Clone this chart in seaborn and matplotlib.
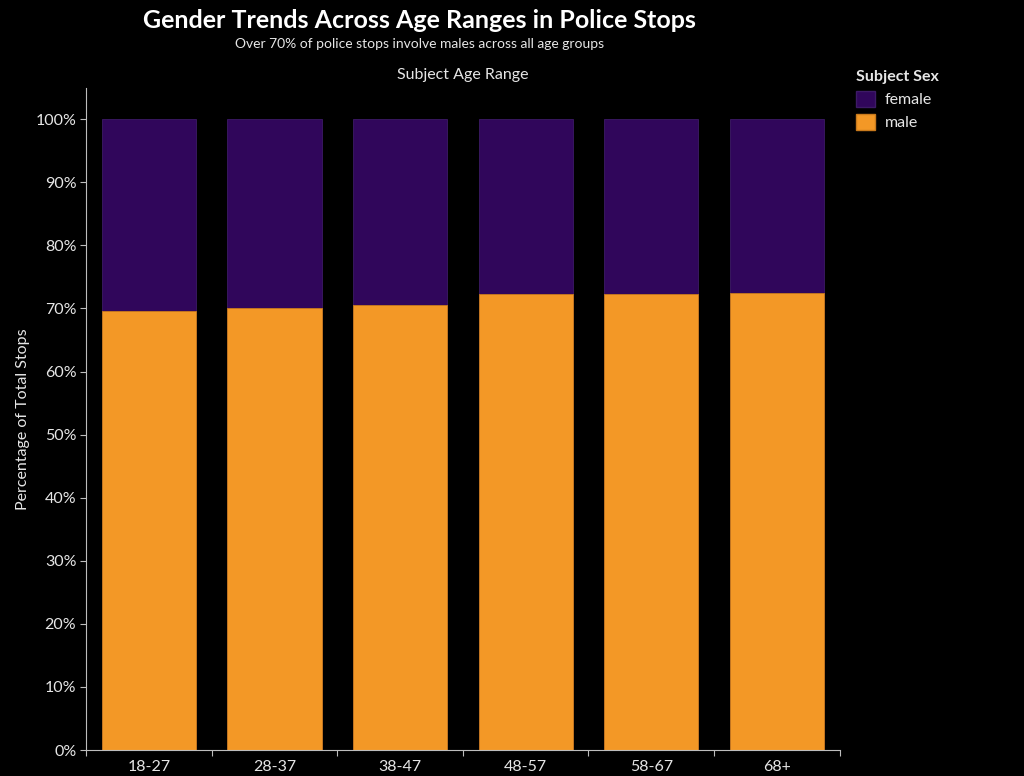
import matplotlib
matplotlib.use("Agg")
import matplotlib.pyplot as plt
import matplotlib.ticker as mticker
import pandas as pd
import seaborn as sns
from matplotlib.patches import Patch

age_ranges = ["18-27", "28-37", "38-47", "48-57", "58-67", "68+"]
male_pct = [69.6, 70.1, 70.5, 72.3, 72.3, 72.5]
female_pct = [100 - m for m in male_pct]

female_color = "#30065B"
male_color = "#F39826"
text_color = "#E6E6E6"
axis_color = "#BDBDBD"

sns.set_style("dark")
plt.rcParams["font.family"] = ["Lato", "DejaVu Sans"]

df = pd.DataFrame({"age": age_ranges, "male": male_pct, "female": female_pct})
df["total"] = df["male"] + df["female"]

fig = plt.figure(figsize=(10.24, 7.76), dpi=100, facecolor="black")
ax = fig.add_axes([0.084, 0.0335, 0.736, 0.8535])
ax.set_facecolor("black")

# stacked bars: draw full height (female on top) then male over it
sns.barplot(data=df, x="age", y="total", color=female_color, width=0.75,
            edgecolor="#3d1a66", linewidth=0.6, saturation=1, ax=ax)
sns.barplot(data=df, x="age", y="male", color=male_color, width=0.75,
            edgecolor="#c97a1c", linewidth=0.6, saturation=1, ax=ax)

ax.set_ylim(0, 105)
ax.set_xlim(-0.5, 5.5)
ax.set_yticks(range(0, 101, 10))
ax.set_yticklabels([f"{v}%" for v in range(0, 101, 10)])
ax.tick_params(axis="y", colors=axis_color, labelcolor=text_color, labelsize=11.5,
               length=4, width=0.8, left=True, pad=3)
ax.set_xticks(range(len(age_ranges)))
ax.set_xticklabels(age_ranges)
ax.xaxis.set_minor_locator(mticker.FixedLocator([i - 0.5 for i in range(len(age_ranges) + 1)]))
ax.tick_params(axis="x", which="major", length=0, labelcolor=text_color, labelsize=11.5, pad=7)
ax.tick_params(axis="x", which="minor", length=4, width=0.8, color=axis_color, bottom=True)
ax.grid(False)

for side in ["top", "right"]:
    ax.spines[side].set_visible(False)
for side in ["left", "bottom"]:
    ax.spines[side].set_visible(True)
    ax.spines[side].set_color(axis_color)
    ax.spines[side].set_linewidth(0.8)

ax.set_xlabel("")
ax.set_ylabel("Percentage of Total Stops", color=text_color, fontsize=11.5)
ax.yaxis.set_label_coords(-0.074, 0.5)

fig.text(0.410, 0.973, "Gender Trends Across Age Ranges in Police Stops",
         ha="center", va="center", color="white", fontsize=18, fontweight="bold")
fig.text(0.410, 0.943, "Over 70% of police stops involve males across all age groups",
         ha="center", va="center", color=text_color, fontsize=10)
fig.text(0.452, 0.903, "Subject Age Range", ha="center", va="center",
         color=text_color, fontsize=11.5)

handles = [Patch(facecolor=female_color, edgecolor="#3d1a66", label="female"),
           Patch(facecolor=male_color, edgecolor="#c97a1c", label="male")]
leg = fig.legend(handles=handles, title="Subject Sex", loc="upper left",
                 bbox_to_anchor=(0.822, 0.928), frameon=False, fontsize=11.5,
                 title_fontsize=11.5, handlelength=1.2, handleheight=1.2,
                 handletextpad=0.6, labelspacing=0.4, alignment="left")
leg.get_title().set_color(text_color)
leg.get_title().set_fontweight("bold")
for t in leg.get_texts():
    t.set_color(text_color)

fig.savefig("out.png", dpi=100, facecolor="black")
